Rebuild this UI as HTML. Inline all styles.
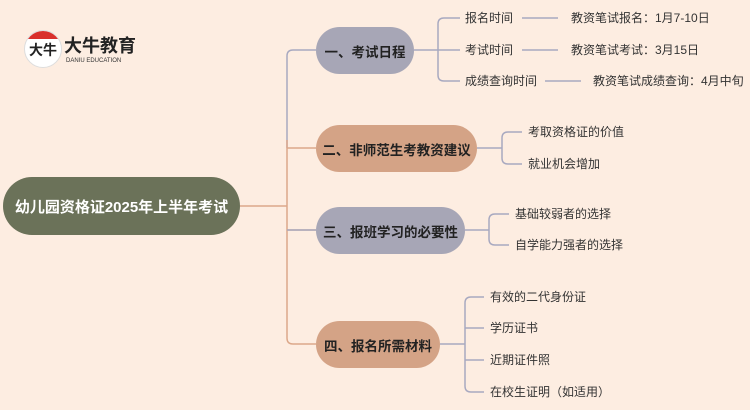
<!DOCTYPE html>
<html><head><meta charset="utf-8"><style>
body{margin:0;width:750px;height:410px;background:#fdede1;position:relative;overflow:hidden;font-family:"Liberation Sans","Noto Sans CJK SC",sans-serif;}
.t{position:absolute;font-size:12px;color:#333;white-space:nowrap;line-height:16px}
.p{position:absolute;border-radius:24px;font-weight:bold;font-size:13.5px;color:#222;display:flex;align-items:center;justify-content:center;white-space:nowrap}
</style></head><body>
<svg width="750" height="410" style="position:absolute;left:0;top:0" fill="none" stroke-width="1.5">
<path d="M240 206 H287" stroke="#dca88a"/>
<path d="M316 50 H293 Q287 50 287 56 V148" stroke="#a8a9c0"/>
<path d="M287 140 V338 Q287 344 293 344 H316" stroke="#dca88a"/>
<path d="M287 148 H316 M287 230 H316" stroke="#dca88a"/>
<path d="M287 230 H316" stroke="#a8a9c0"/>
<g stroke="#a8a9c0">
<path d="M414 50 H438 M460 18 H444 Q438 18 438 24 V75 Q438 81 444 81 H460 M438 50 H460"/>
<path d="M522 18 H558 M522 50 H558 M545 81 H581"/>
<path d="M477 148 H502 M522 132 H508 Q502 132 502 138 V158 Q502 164 508 164 H522"/>
<path d="M465 230 H489 M509 214 H495 Q489 214 489 220 V239 Q489 245 495 245 H509"/>
<path d="M440 344 H465 M484 297 H471 Q465 297 465 303 V386 Q465 392 471 392 H484 M465 328 H484 M465 360 H484"/>
</g>
</svg>
<div style="position:absolute;left:24px;top:30px;width:36px;height:36px;border-radius:50%;background:#fff;border:1px solid #ddd;overflow:hidden"><div style="height:8px;background:#d9302c"></div><div style="font-size:14px;font-weight:bold;color:#222;text-align:center;line-height:22px">大牛</div></div>
<div style="position:absolute;left:64px;top:36px;font-size:18px;font-weight:bold;color:#222;line-height:20px">大牛教育</div>
<div style="position:absolute;left:66px;top:57px;font-size:6px;color:#333;line-height:8px">DANIU EDUCATION</div>
<div class="p" style="left:3px;top:177px;width:237px;height:58px;background:#6b7259;color:#fff;font-size:15px;border-radius:29px">幼儿园资格证2025年上半年考试</div>
<div class="p" style="left:316px;top:27px;width:98px;height:47px;background:#a7a6b6">一、考试日程</div>
<div class="p" style="left:316px;top:125px;width:161px;height:47px;background:#d4a386">二、非师范生考教资建议</div>
<div class="p" style="left:316px;top:207px;width:149px;height:47px;background:#a7a6b6">三、报班学习的必要性</div>
<div class="p" style="left:316px;top:321px;width:124px;height:47px;background:#d4a386">四、报名所需材料</div>
<div class="t" style="left:465px;top:10px">报名时间</div>
<div class="t" style="left:465px;top:42px">考试时间</div>
<div class="t" style="left:465px;top:73px">成绩查询时间</div>
<div class="t" style="left:571px;top:10px">教资笔试报名：1月7-10日</div>
<div class="t" style="left:571px;top:42px">教资笔试考试：3月15日</div>
<div class="t" style="left:593px;top:73px">教资笔试成绩查询：4月中旬</div>
<div class="t" style="left:528px;top:124px">考取资格证的价值</div>
<div class="t" style="left:528px;top:156px">就业机会增加</div>
<div class="t" style="left:515px;top:206px">基础较弱者的选择</div>
<div class="t" style="left:515px;top:237px">自学能力强者的选择</div>
<div class="t" style="left:490px;top:289px">有效的二代身份证</div>
<div class="t" style="left:490px;top:320px">学历证书</div>
<div class="t" style="left:490px;top:352px">近期证件照</div>
<div class="t" style="left:490px;top:384px">在校生证明（如适用）</div>
</body></html>
